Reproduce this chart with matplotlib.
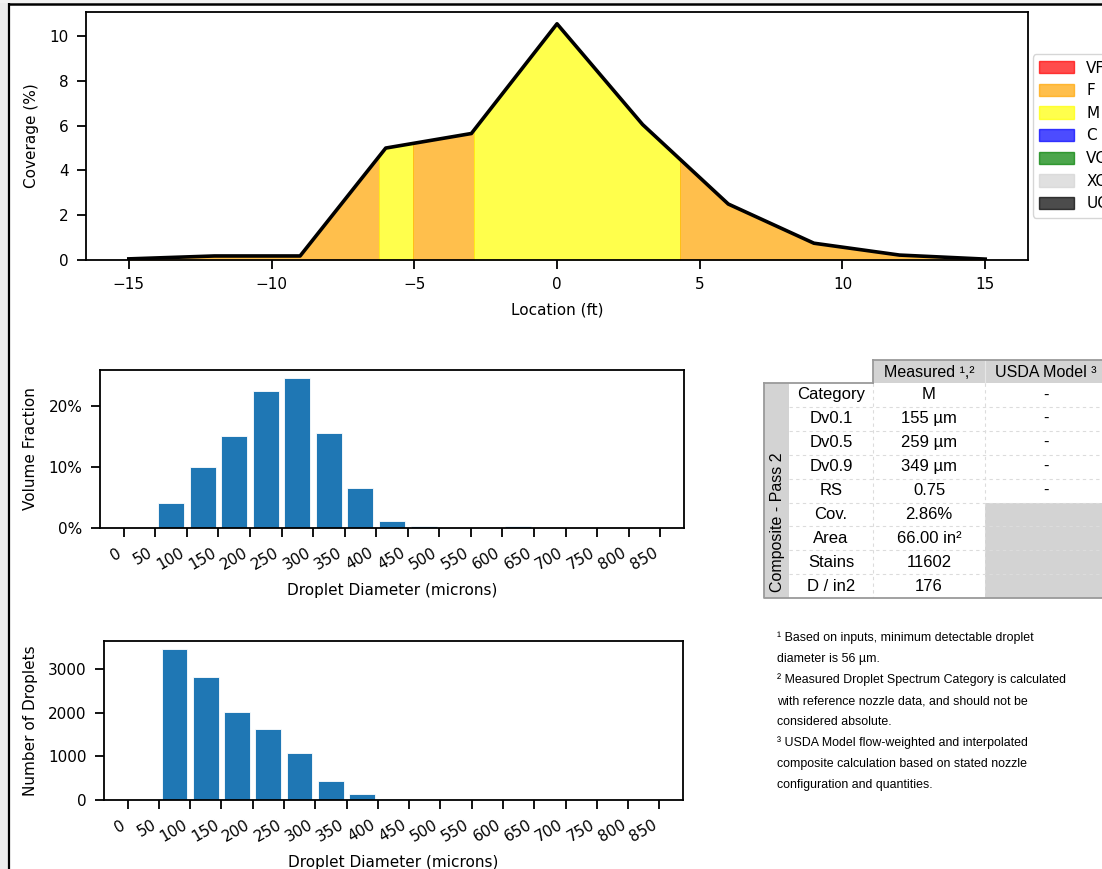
import matplotlib
matplotlib.use('Agg')
import matplotlib.pyplot as plt
from matplotlib.patches import Rectangle, Patch
from matplotlib.ticker import PercentFormatter

# ---------------- data ----------------
location_ft = [-15, -12, -9, -6, -3, 0, 3, 6, 9, 12, 15]
coverage_pct = [0.05, 0.18, 0.18, 5.0, 5.65, 10.55, 6.05, 2.5, 0.75, 0.22, 0.04]

segment_starts = [-15, -6.23, -5.04, -2.9, 4.3]
segment_ends = [-6.23, -5.04, -2.9, 4.3, 15]
segment_cats = ['F', 'M', 'F', 'M', 'F']

categories = ['VF', 'F', 'M', 'C', 'VC', 'XC', 'UC']
category_colors = ['red', 'orange', 'yellow', 'blue', 'green', 'lightgray', 'black']

bin_centers = [25, 75, 125, 175, 225, 275, 325, 375, 425, 475, 525, 575, 625,
               675, 725, 775, 825]
volume_fraction_pct = [0.0, 4.1, 9.9, 15.0, 22.4, 24.6, 15.5, 6.6, 1.1, 0.35,
                       0.05, 0.02, 0.3, 0.0, 0.0, 0.0, 0.0]
droplet_counts = [0, 3470, 2830, 2010, 1630, 1080, 440, 130, 12, 0, 0, 0, 0,
                  0, 0, 0, 0]
diameter_ticks = list(range(0, 900, 50))

table_row_labels = ['Category', 'Dv0.1', 'Dv0.5', 'Dv0.9', 'RS', 'Cov.',
                    'Area', 'Stains', 'D / in2']
table_measured = ['M', '155 µm', '259 µm', '349 µm', '0.75', '2.86%',
                  '66.00 in²', '11602', '176']
table_model = ['-', '-', '-', '-', '-']
table_headers = ['Measured ¹,²', 'USDA Model ³']
table_side_label = 'Composite - Pass 2'

footnotes = [
    '¹ Based on inputs, minimum detectable droplet',
    'diameter is 56 µm.',
    '² Measured Droplet Spectrum Category is calculated',
    'with reference nozzle data, and should not be',
    'considered absolute.',
    '³ USDA Model flow-weighted and interpolated',
    'composite calculation based on stated nozzle',
    'configuration and quantities.',
]

# ---------------- style ----------------
plt.rcParams.update({
    'font.family': ['DejaVu Sans'],
    'axes.linewidth': 1.3,
    'xtick.major.size': 6.5,
    'ytick.major.size': 6.5,
    'xtick.major.width': 1.3,
    'ytick.major.width': 1.3,
    'xtick.major.pad': 6.0,
    'ytick.major.pad': 6.0,
    'xtick.labelsize': 11,
    'ytick.labelsize': 11,
    'axes.labelsize': 11,
    'axes.labelpad': 7.5,
    'legend.fontsize': 11,
})

W, H = 1102, 869
fig = plt.figure(figsize=(W / 100, H / 100), dpi=100)


def px_box(left, top, right, bottom):
    return [left / W, 1 - bottom / H, (right - left) / W, (bottom - top) / H]


# ---------------- top coverage chart ----------------
ax1 = fig.add_axes(px_box(86, 12, 1028, 260))
color_of = dict(zip(categories, category_colors))
for x0, x1, cat in zip(segment_starts, segment_ends, segment_cats):
    poly = ax1.fill_between(location_ft, coverage_pct, color=color_of[cat],
                            alpha=0.7, linewidth=0)
    clip = Rectangle((x0, -1), x1 - x0, 100, transform=ax1.transData)
    poly.set_clip_path(clip)
ax1.plot(location_ft, coverage_pct, color='black', linewidth=2.6)
ax1.set_xlabel('Location (ft)')
ax1.set_ylabel('Coverage (%)')
ax1.set_ylim(bottom=0)
handles = [Patch(facecolor=c, edgecolor=c, alpha=0.7, label=l)
           for l, c in zip(categories, category_colors)]
ax1.legend(handles=handles, loc='center left', bbox_to_anchor=(0.997, 0.5),
           labelspacing=0.5, handlelength=2.3, handleheight=0.85)

# ---------------- volume fraction ----------------
ax2 = fig.add_axes(px_box(100, 370, 684, 528))
ax2.bar(bin_centers, volume_fraction_pct, width=41, color='#1f77b4',
        edgecolor='white', linewidth=0.6)
ax2.set_xticks(diameter_ticks)
ax2.set_xticklabels([str(v) for v in diameter_ticks], rotation=30, ha='right')
ax2.yaxis.set_major_formatter(PercentFormatter(xmax=100, decimals=0))
ax2.set_xlabel('Droplet Diameter (microns)')
ax2.set_ylabel('Volume Fraction')

# ---------------- droplet counts ----------------
ax3 = fig.add_axes(px_box(104, 641, 683, 800))
ax3.bar(bin_centers, droplet_counts, width=41, color='#1f77b4',
        edgecolor='white', linewidth=0.6)
ax3.set_xticks(diameter_ticks)
ax3.set_xticklabels([str(v) for v in diameter_ticks], rotation=30, ha='right')
ax3.set_xlabel('Droplet Diameter (microns)')
ax3.set_ylabel('Number of Droplets')

# ---------------- overlay: frame, table, footnotes ----------------
ov = fig.add_axes([0, 0, 1, 1], zorder=10)
ov.set_xlim(0, W)
ov.set_ylim(H, 0)
ov.axis('off')
ov.patch.set_alpha(0)

# screenshot frame
ov.add_patch(Rectangle((0, 0), 8, H, facecolor='#ececec', edgecolor='none'))
ov.add_patch(Rectangle((0, 0), W, 3, facecolor='#f2f2f2', edgecolor='none'))
ov.plot([8.5, 8.5], [3, H], color='black', lw=1.6, solid_capstyle='butt')
ov.plot([8, W], [3.5, 3.5], color='black', lw=1.8, solid_capstyle='butt')

tfont = dict(family=['Liberation Sans', 'DejaVu Sans'])
grey = '#d3d3d3'
border = '#9a9a9a'
x_side, x_lab, x_c1, x_c2, x_end = 764, 789, 873, 985, 1115
y_hdr, y_body, row_h = 360, 383, 23.9
n_rows = len(table_row_labels)
y_bot = y_body + n_rows * row_h

ov.add_patch(Rectangle((x_c1, y_hdr), x_end - x_c1, y_body - y_hdr,
                       facecolor=grey, edgecolor='none'))
ov.add_patch(Rectangle((x_side, y_body), x_lab - x_side, y_bot - y_body,
                       facecolor=grey, edgecolor='none'))
ov.add_patch(Rectangle((x_c2, y_body + len(table_model) * row_h), x_end - x_c2,
                       (n_rows - len(table_model)) * row_h,
                       facecolor=grey, edgecolor='none'))
for i in range(1, n_rows):
    y = y_body + i * row_h
    ov.plot([x_lab, x_end], [y, y], color='#dcdcdc', lw=0.8, ls=(0, (3, 3)))
for x in (x_c1, x_c2):
    ov.plot([x, x], [y_body, y_bot], color='#dcdcdc', lw=0.8, ls=(0, (3, 3)))
ov.plot([x_c2, x_c2], [y_hdr, y_body], color='#e6e6e6', lw=0.8)
ov.plot([x_c1, x_end], [y_hdr, y_hdr], color=border, lw=1.3)
ov.plot([x_c1, x_c1], [y_hdr, y_body], color=border, lw=1.3)
ov.plot([x_side, x_c1], [y_body, y_body], color=border, lw=1.3)
ov.plot([x_side, x_side, x_end], [y_body, y_bot, y_bot], color=border, lw=1.3)

ov.text((x_c1 + x_c2) / 2, (y_hdr + y_body) / 2 + 1, table_headers[0],
        ha='center', va='center', fontsize=11.5, **tfont)
ov.text((x_c2 + 1107) / 2, (y_hdr + y_body) / 2 + 1, table_headers[1],
        ha='center', va='center', fontsize=11.5, **tfont)
ov.text((x_side + x_lab) / 2 + 1, y_bot - 6, table_side_label,
        rotation=90, ha='center', va='bottom', fontsize=11.5, **tfont)
for i, lab in enumerate(table_row_labels):
    yc = y_body + (i + 0.5) * row_h
    ov.text((x_lab + x_c1) / 2, yc, lab, ha='center', va='center',
            fontsize=12, **tfont)
    ov.text((x_c1 + x_c2) / 2, yc, table_measured[i], ha='center',
            va='center', fontsize=12, **tfont)
    if i < len(table_model):
        ov.text((x_c2 + 1107) / 2, yc, table_model[i], ha='center',
                va='center', fontsize=12, **tfont)

for i, line in enumerate(footnotes):
    ov.text(777, 638 + i * 21, line, ha='left', va='center', fontsize=8.9,
            **tfont)

fig.savefig('out.png', dpi=100)
